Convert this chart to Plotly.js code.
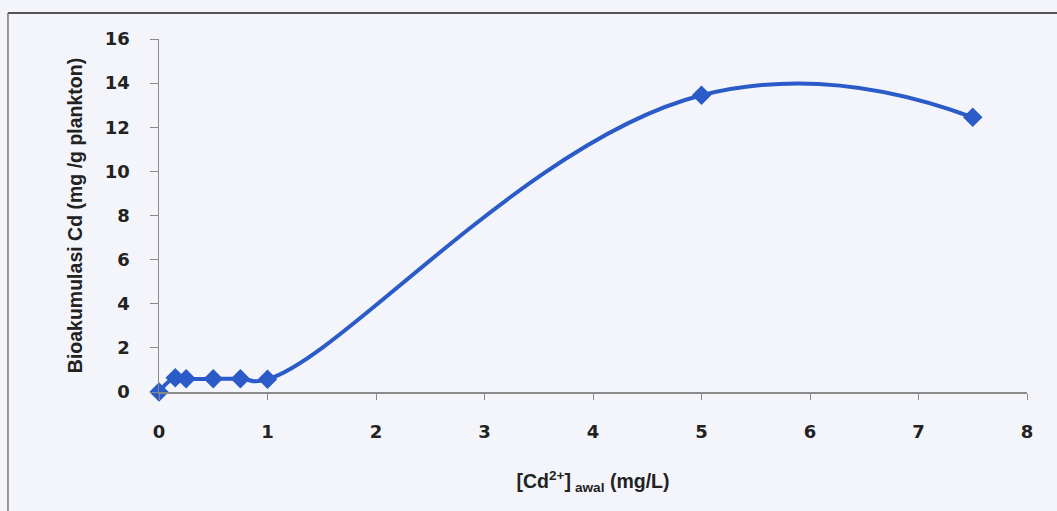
<!DOCTYPE html>
<html>
<head>
<meta charset="utf-8">
<script src="https://cdn.plot.ly/plotly-3.0.1.min.js"></script>
<style>
html,body{margin:0;padding:0;background:#f3f5fa;}
#chart{width:1057px;height:511px;}
</style>
</head>
<body>
<div id="chart"></div>
<script>
var concentration = [0, 0.15, 0.25, 0.5, 0.75, 1, 5, 7.5];
var bioaccumulation = [0, 0.65, 0.6, 0.6, 0.6, 0.58, 13.45, 12.45];
var xTicks = [0, 1, 2, 3, 4, 5, 6, 7, 8];
var yTicks = [0, 2, 4, 6, 8, 10, 12, 14, 16];

var trace = {
  x: concentration,
  y: bioaccumulation,
  type: 'scatter',
  mode: 'lines+markers',
  line: {color: '#2a5bc8', width: 4, shape: 'spline', smoothing: 1.3},
  marker: {symbol: 'diamond', size: 15, color: '#2a5bc8'},
  cliponaxis: false,
  showlegend: false
};

var tickFont = {family: 'DejaVu Sans, sans-serif', size: 18, color: '#222'};
var titleFont = {family: 'Liberation Sans, Arial, sans-serif', size: 19.5, color: '#222'};

var layout = {
  width: 1057, height: 511,
  paper_bgcolor: '#f3f5fa',
  plot_bgcolor: 'rgba(0,0,0,0)',
  margin: {l: 159, r: 30, t: 39, b: 119},
  font: {family: 'Liberation Sans, Arial, sans-serif', color: '#222'},
  xaxis: {
    range: [0, 8],
    tickvals: xTicks,
    ticktext: xTicks.map(function(v){return '<b>'+v+'</b>';}),
    showgrid: false, zeroline: false,
    showline: true, linecolor: '#8a8a8a', linewidth: 1.5,
    ticks: 'outside', ticklen: 6, tickcolor: '#8a8a8a',
    ticklabelstandoff: 17,
    tickfont: tickFont,
    title: {text: '<b>[Cd<sup>2+</sup>]<sub> awal</sub> (mg/L)</b>', font: titleFont, standoff: 33}
  },
  yaxis: {
    range: [0, 16],
    tickvals: yTicks,
    ticktext: yTicks.map(function(v){return '<b>'+v+'</b>';}),
    showgrid: false, zeroline: false,
    showline: true, linecolor: '#8a8a8a', linewidth: 1.5,
    ticks: 'outside', ticklen: 8, tickcolor: '#8a8a8a',
    ticklabelstandoff: 16,
    tickfont: tickFont,
    title: {text: '<b>Bioakumulasi Cd (mg /g plankton)</b>', font: titleFont, standoff: 17}
  },
  shapes: [
    {type: 'line', xref: 'paper', yref: 'paper', x0: -0.174, x1: 1.05, y0: 1.0737, y1: 1.0737, line: {color: '#555', width: 2}},
    {type: 'line', xref: 'paper', yref: 'paper', x0: -0.174, x1: -0.174, y0: 1.0737, y1: -0.4, line: {color: '#777', width: 1.5}}
  ]
};

Plotly.newPlot('chart', [trace], layout, {displayModeBar: false, staticPlot: true});
</script>
</body>
</html>
